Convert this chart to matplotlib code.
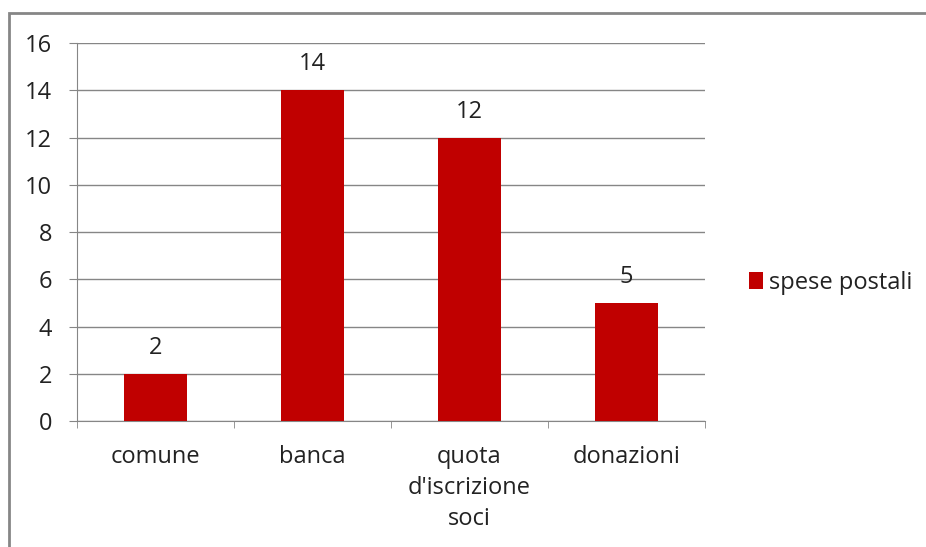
import numpy as np
import matplotlib.pyplot as plt
from matplotlib.patches import Rectangle

# Dati
categorie = ["comune", "banca", "quota\nd'iscrizione\nsoci", "donazioni"]
spese_postali = [2, 14, 12, 5]

plt.rcParams['font.family'] = ['Open Sans', 'DejaVu Sans']
grigio = "#868686"
rosso = "#C00000"
testo = "#222222"
fs = 17

fig = plt.figure(figsize=(9.26, 5.47), dpi=100)
ax = fig.add_axes([0.0832, 0.2303, 0.678, 0.6911])

# Cornice del grafico
fig.patches.append(Rectangle((9 / 926, -0.1), 1.2, 1 - 13 / 547 + 0.1,
                             transform=fig.transFigure, fill=False,
                             edgecolor=grigio, linewidth=2))

x = np.arange(len(categorie))
barre = ax.bar(x, spese_postali, width=0.4, color=rosso, zorder=3,
               label="spese postali")
for xi, v in zip(x, spese_postali):
    ax.annotate(str(v), (xi, v), xytext=(0, 10), textcoords="offset points",
                ha="center", va="bottom", fontsize=fs, color=testo)

ax.set_xlim(-0.5, len(categorie) - 0.5)
ax.set_ylim(0, 16)
ax.set_yticks(range(0, 17, 2))
ax.yaxis.grid(True, color=grigio, linewidth=1)
ax.set_axisbelow(True)

ax.set_xticks(x)
ax.set_xticklabels(categorie, fontsize=fs, color=testo, linespacing=1.4)
ax.set_xticks(np.arange(-0.5, len(categorie)), minor=True)
ax.tick_params(axis="x", which="major", length=0, pad=17)
ax.tick_params(axis="x", which="minor", length=5, color=grigio)
ax.tick_params(axis="y", length=6, color=grigio, labelsize=fs,
               labelcolor=testo, pad=12)

for s in ["top", "right"]:
    ax.spines[s].set_visible(False)
ax.spines["left"].set_color(grigio)
ax.spines["bottom"].set_color(grigio)

fig.legend(handles=[barre], labels=["spese postali"], loc="center left",
           bbox_to_anchor=(0.809, 1 - 283 / 547), frameon=False, fontsize=fs,
           handlelength=0.6, handleheight=0.7, handletextpad=0.25,
           borderpad=0, borderaxespad=0, labelcolor=testo)

fig.savefig("out.png", dpi=100)
